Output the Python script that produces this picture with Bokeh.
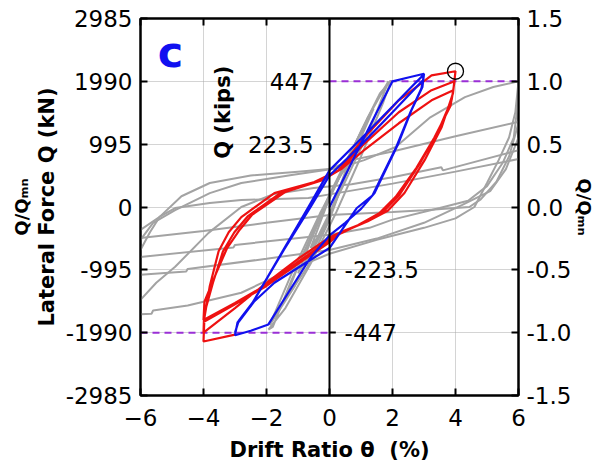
import math
from bokeh.plotting import figure
from bokeh.models import (Range1d, LinearAxis, FixedTicker, PrintfTickFormatter,
                          Span, Label, Title)
from bokeh.core.properties import value
from bokeh.embed import file_html
from bokeh.resources import INLINE

# ---------------- axis ticks ----------------
drift_ticks = [-6, -4, -2, 0, 2, 4, 6]
force_ticks = [-2985, -1990, -995, 0, 995, 1990, 2985]
ratio_ticks = [-1.5, -1.0, -0.5, 0.0, 0.5, 1.0, 1.5]
kips_ticks = [447, 223.5, -223.5, -447]
KN_PER_KIP = 4.448
Q_MN = 1990.0

# ---------------- red specimen (cycles to +/-4 %) ----------------
red_x = [-3.0, -4.0, -3.97, -3.8, -3.52, -3.2, -2.8, -1.75, -0.48, 0.29, 1.1, 2.2, 3.24, 4.0,
         3.92, 3.56, 3.02, 2.38, 1.85, 1.2, 0.5, 0.0, -1.0, -2.0, -3.0, -4.0,
         -3.98, -3.7, -3.38, -3.02, -2.6, -1.55, -0.35, 0.35, 1.1, 2.2, 3.24, 3.97,
         3.88, 3.45, 2.88, 2.22, 1.7, 1.05, 0.4, 0.0, -1.0, -2.0, -3.0, -4.0,
         -3.97, -3.6, -3.25, -2.85, -2.45, -1.4, -0.25, 0.4, 1.1, 2.2, 3.24, 3.93,
         3.84, 3.33, 2.76, 2.1, 1.58, 0.9, 0.3, 0.0, -1.0, -2.0, -3.0, -4.0]
red_y = [-2020, -2130, -1750, -1250, -700, -400, -160, 220, 395, 584, 1100, 1690, 2084, 2150,
         1800, 1263, 742, 221, -60, -230, -370, -480, -820, -1200, -1600, -1990,
         -1700, -1200, -700, -400, -150, 225, 410, 600, 1000, 1500, 1850, 1990,
         1700, 1200, 700, 190, -80, -260, -400, -520, -870, -1230, -1520, -1790,
         -1500, -1050, -650, -360, -120, 240, 420, 610, 900, 1326, 1690, 1850,
         1600, 1100, 620, 160, -100, -290, -430, -560, -900, -1250, -1540, -1820]

# ---------------- blue specimen (cycles to +/-3 %) ----------------
blue_x = [0.0, 0.5, 1.0, 1.5, 2.0, 2.5, 3.0,
          2.95, 2.6, 2.19, 1.43, 1.0, 0.5, 0.0, -0.6, -1.3, -1.94, -2.5, -3.0,
          -2.92, -2.5, -1.5, -0.67, 0.0, 1.0, 2.0, 2.6, 3.0,
          2.92, 2.55, 2.12, 1.36, 0.86, 0.0, -0.9, -1.75, -2.4, -2.9, -3.0,
          -2.88, -2.45, -1.45, -0.6, 0.0, 1.0, 2.0, 2.95]
blue_y = [0, 500, 1000, 1500, 1990, 2050, 2110,
          1900, 1530, 1010, 220, -30, -250, -450, -800, -1350, -1860, -1960, -2030,
          -1830, -1570, -710, 0, 580, 1080, 1590, 1900, 2100,
          1880, 1480, 950, 180, -20, -650, -930, -1200, -1500, -1830, -1990,
          -1800, -1520, -680, 0, 500, 980, 1500, 2000]

# ---------------- gray specimens: stiff small-drift cluster ----------------
cluster_xs = [
    [-0.6, -0.3, 0.0, 0.3, 0.6, 0.3, 0.0, -0.3, -0.6],
    [-1.0, -0.5, 0.0, 0.5, 1.0, 0.5, 0.0, -0.5, -1.0],
    [-1.45, -0.8, 0.0, 0.7, 1.4, 0.7, 0.0, -0.7, -1.45],
    [-1.94, -1.8, -1.2, -0.4, 0.2, 1.0, 1.6, 1.95, 1.7, 1.0, 0.2, -0.6, -1.4, -1.94],
    [-1.9, -1.2, -0.3, 0.4, 1.2, 1.87, 1.3, 0.4, -0.3, -1.1, -1.9],
]
cluster_ys = [
    [-650, -250, 150, 450, 700, 280, -120, -420, -650],
    [-1050, -420, 180, 680, 1080, 480, -170, -650, -1050],
    [-1500, -700, 200, 900, 1560, 760, -200, -950, -1500],
    [-1940, -1900, -1150, -300, 350, 1200, 1800, 2000, 1650, 800, -100, -900, -1600, -1940],
    [-1870, -1050, -100, 550, 1400, 1990, 1250, 300, -400, -1250, -1870],
]

# ---------------- gray specimen: large-drift pinched loops ----------------
big_xs = [
    [-6, -5.6, -4.9, -3.8, -2.8, -1.2, 0.3, 1.1, 2.1, 3.2, 4.3, 5.2, 6],
    [-6, -5.7, -5.4, -4.7, -3.8, -2.5, -1, 0, 0.7, 2, 4, 6],
    [-6, -5.4, -4.9, -3.8, -2.8, -0.67, 0, 2, 4, 6],
    [-6, -5.5, -4.9, -3.84, -2.8, -1.8, -0.5, 0.7, 2, 3.55, 3.6, 6],
    [6, 5.9, 5.7, 5.37, 5.0, 4.6, 4.0, 3.0, 1.5, 0, -1.5, -2.8, -4.5, -5.6, -5.65, -6],
    [6, 5.85, 5.5, 5.0, 4.4, 3.5, 2.0, 1.27, 0, -1.5, -3.0, -3.05, -6],
    [6, 5.7, 5.3, 4.8, 4.44, 3.0, 2.0, 0, -2, -4, -6],
    [6, 5.6, 5.1, 4.2, 3.0, 1.5, 0, -2, -4.5, -4.55, -6],
]
big_ys = [
    [-520, -250, -50, 220, 380, 505, 616, 742, 950, 1420, 1740, 1900, 1990],
    [-680, -400, -160, 170, 380, 500, 560, 600, 742, 880, 1120, 1350],
    [-363, -158, -16, 63, 110, 142, 200, 370, 560, 760],
    [-1470, -1200, -947, -410, 0, 200, 300, 360, 470, 630, 580, 900],
    [1990, 1500, 1100, 742, 380, 0, -180, -330, -520, -740, -1050, -1358, -1560, -1640, -1690, -1700],
    [1740, 1100, 700, 330, 100, -16, -200, -330, -440, -520, -600, -640, -790],
    [1330, 800, 400, 120, 0, -50, -80, -126, -250, -380, -490],
    [1100, 600, 250, 30, -250, -500, -680, -820, -980, -1020, -1074],
]

FONT = "DejaVu Sans"
RATIO_TITLE = "Q/Q\u2098\u2099"

p = figure(width=602, height=469,
           x_range=Range1d(-6, 6), y_range=Range1d(-2985, 2985),
           output_backend="svg", toolbar_location=None,
           min_border_left=140, min_border_right=84,
           min_border_top=18, min_border_bottom=74)
p.background_fill_color = "white"
p.border_fill_color = "white"
p.outline_line_color = "black"
p.outline_line_width = 2

# grid
p.xgrid.ticker = FixedTicker(ticks=drift_ticks)
p.ygrid.ticker = FixedTicker(ticks=force_ticks)
for g in (p.xgrid, p.ygrid):
    g.grid_line_color = "#a8a8a8"
    g.grid_line_dash = "1 1"
    g.grid_line_width = 1

def style_axis(ax):
    ax.axis_line_color = "black"
    ax.axis_line_width = 2
    ax.major_tick_in = 7
    ax.major_tick_out = 0
    ax.minor_tick_line_color = None
    ax.major_tick_line_color = "black"
    ax.major_tick_line_width = 2
    ax.major_label_text_font = FONT
    ax.major_label_text_font_size = "23px"
    ax.major_label_text_color = "black"

def style_title(ax, text, standoff):
    ax.axis_label = text
    ax.axis_label_text_font = FONT
    ax.axis_label_text_font_style = "bold"
    ax.axis_label_text_font_size = "21px"
    ax.axis_label_text_color = "black"
    ax.axis_label_standoff = standoff

# bottom axis
xa = p.xaxis[0]
xa.ticker = FixedTicker(ticks=drift_ticks)
style_axis(xa)
xa.major_label_standoff = 13
style_title(xa, "Drift Ratio \u03b8\u00a0 (%)", 9)

# left axis
ya = p.yaxis[0]
ya.ticker = FixedTicker(ticks=force_ticks)
ya.formatter = PrintfTickFormatter(format="%d")
style_axis(ya)
ya.major_label_standoff = 8
style_title(ya, "Lateral Force Q (kN)", 4)

# outer left title (Q/QMn)
p.add_layout(Title(text=RATIO_TITLE, align="center", standoff=0,
                   text_font=FONT, text_font_style="bold",
                   text_font_size="18px", text_color="black"), "left")

# top axis (ticks only)
top = LinearAxis(ticker=FixedTicker(ticks=drift_ticks))
style_axis(top)
top.major_label_text_font_size = "1px"
top.major_label_text_color = None
top.major_label_standoff = 0
p.add_layout(top, "above")

# right axis: Q/QMn
p.extra_y_ranges = {"ratio": Range1d(-2985 / Q_MN, 2985 / Q_MN)}
right = LinearAxis(y_range_name="ratio", ticker=FixedTicker(ticks=ratio_ticks),
                   formatter=PrintfTickFormatter(format="%.1f"))
style_axis(right)
right.major_label_standoff = 8
style_title(right, RATIO_TITLE, 0)
right.axis_label_text_font_size = "18px"
p.add_layout(right, "right")

# zero axis (Q in kips)
p.add_layout(Span(location=0, dimension="height", line_color="black", line_width=2))
pos = [k for k in kips_ticks if k > 0]
neg = [k for k in kips_ticks if k < 0]
pos_y = [k * KN_PER_KIP for k in pos]
neg_y = [k * KN_PER_KIP for k in neg]
p.segment(x0=[0] * len(pos), x1=[-0.2] * len(pos), y0=pos_y, y1=pos_y,
          line_color="black", line_width=2)
p.segment(x0=[0] * len(neg), x1=[0.2] * len(neg), y0=neg_y, y1=neg_y,
          line_color="black", line_width=2)
p.text(x=[-0.5] * len(pos), y=pos_y, text=[("%g" % k) for k in pos],
       text_align="right", text_baseline="middle",
       text_font=value(FONT), text_font_size="23px", text_color="black")
p.text(x=[0.48] * len(neg), y=neg_y, text=[("%g" % k) for k in neg],
       text_align="left", text_baseline="middle",
       text_font=value(FONT), text_font_size="23px", text_color="black")
p.add_layout(Label(x=-3.37, y=1500, text="Q (kips)", angle=math.pi / 2,
                   text_align="center", text_baseline="alphabetic",
                   text_font=FONT, text_font_style="bold",
                   text_font_size="21px", text_color="black"))

# Q/QMn reference lines
p.segment(x0=[0, -6], x1=[6, 0], y0=[Q_MN, -Q_MN], y1=[Q_MN, -Q_MN],
          line_color="#9a2fd6", line_width=2, line_dash="7 5")

# curves
p.multi_line(xs=big_xs, ys=big_ys, line_color="#a3a3a3", line_width=2)
p.multi_line(xs=cluster_xs, ys=cluster_ys, line_color="#a3a3a3", line_width=2)
p.line(red_x, red_y, line_color="#ee1111", line_width=2.2)
p.line(blue_x, blue_y, line_color="#1111ee", line_width=2.2)

# peak marker
peak_i = red_y.index(max(red_y))
p.scatter(x=[red_x[peak_i]], y=[red_y[peak_i]], marker="circle", size=16,
          fill_color=None, line_color="black", line_width=1.3)

# panel letter
p.add_layout(Label(x=-5.45, y=2460, text="c", text_font=FONT,
                   text_font_style="bold", text_font_size="43px",
                   text_color="#1010f0", text_baseline="alphabetic"))

open("out.html", "w").write(file_html(p, INLINE))
